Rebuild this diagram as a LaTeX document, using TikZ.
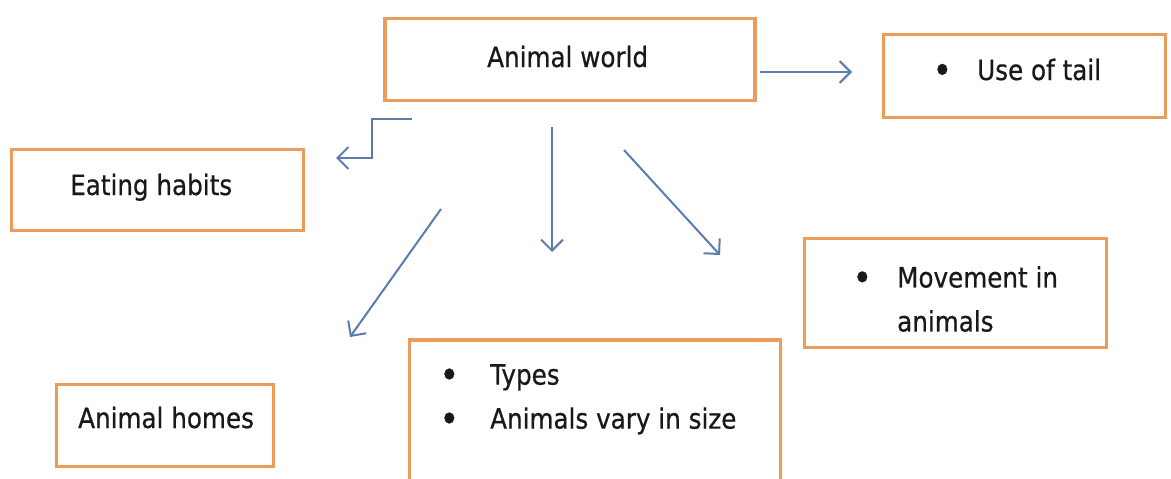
\documentclass[tikz,border=0pt]{standalone}
\usepackage{fontspec}
\setmainfont{DejaVu Sans}[FakeStretch=0.88, FakeBold=0.6]
\usetikzlibrary{arrows.meta}
\definecolor{boxorange}{HTML}{EB9C5B}
\definecolor{arrowblue}{HTML}{5B7DAE}
\newcommand{\bigbul}[1]{\llap{\raisebox{-3.5pt}{\fontsize{38}{44}\selectfont •}\hspace{#1}}}
\begin{document}
\begin{tikzpicture}[x=1pt,y=-1pt,
  box/.style={draw=boxorange, line width=3.8pt, fill=white, rectangle, inner sep=0pt},
  txt/.style={inner sep=0pt, font=\fontsize{28}{44}\selectfont, text=black!90, align=left},
  conn/.style={draw=arrowblue, line width=2pt, -{Straight Barb[length=11pt,width=22pt,line width=2pt]}}]
\clip (0,0) rectangle (1171,479);
\fill[white] (0,0) rectangle (1171,479);
% boxes
\node[box, minimum width=370pt, minimum height=82pt] (world) at (570,59.5) {};
\node[box, minimum width=282pt, minimum height=83pt] (tail) at (1024.5,76) {};
\node[box, minimum width=292pt, minimum height=81pt] (eat) at (157.5,190) {};
\node[box, minimum width=302pt, minimum height=109pt] (move) at (955.5,293) {};
\node[box, minimum width=371pt, minimum height=160pt] (types) at (595,420) {};
\node[box, minimum width=217pt, minimum height=82pt] (homes) at (165,425.5) {};
% texts
\node[txt, anchor=base west] (worldtext) at (487,67) {Animal world};
\node[txt, anchor=base west] (tailtext) at (977,80) {\bigbul{25pt}Use of tail};
\node[txt, anchor=base west] (eattext) at (70,195) {Eating habits};
\node[txt, anchor=north west] (movetext) at (897,266) {\bigbul{25pt}Movement in\\animals};
\node[txt, anchor=north west] (typestext) at (490,364) {\bigbul{31pt}Types\\\bigbul{31pt}Animals vary in size};
\node[txt, anchor=base west] (homestext) at (78,428) {Animal homes};
% connectors
\coordinate (r1) at (760,72);
\coordinate (r2) at (852,72);
\coordinate (e1) at (412,119);
\coordinate (e2) at (372,119);
\coordinate (e3) at (372,158);
\coordinate (e4) at (336,158);
\coordinate (l1) at (441,209);
\coordinate (l2) at (350,337);
\coordinate (d1) at (552,127);
\coordinate (d2) at (552,252);
\coordinate (s1) at (624,150);
\coordinate (s2) at (720,255);
\draw[conn] (r1) -- (r2);
\draw[conn] (e1) -- (e2) -- (e3) -- (e4);
\draw[conn] (l1) -- (l2);
\draw[conn] (d1) -- (d2);
\draw[conn] (s1) -- (s2);
\end{tikzpicture}
\end{document}
